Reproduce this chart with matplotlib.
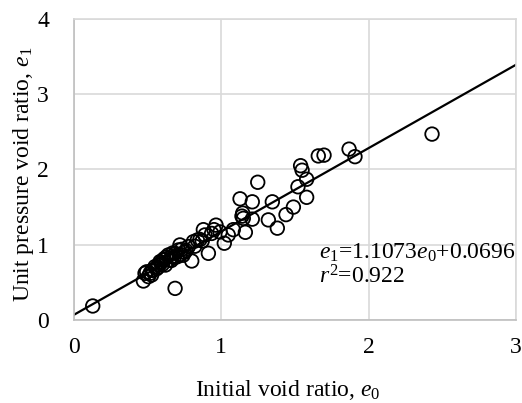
import numpy as np
import matplotlib
matplotlib.use("Agg")
import matplotlib.pyplot as plt

plt.rcParams.update({
    "font.family": ["Liberation Serif", "DejaVu Serif"],
    "mathtext.fontset": "custom",
    "mathtext.rm": "Liberation Serif",
    "mathtext.it": "Liberation Serif:italic",
    "font.size": 17,
})

# measured points (initial void ratio e0, unit pressure void ratio e1)
e0 = [0.127, 2.43, 1.867, 1.907, 1.658, 1.697, 1.538, 1.548, 1.579, 1.52,
      1.579, 1.489, 1.439, 1.346, 1.247, 1.127, 1.21, 1.145, 1.149, 1.21,
      1.319, 1.38, 1.163, 1.081, 1.02, 0.964, 0.95, 0.878, 0.912, 0.837,
      0.799, 0.719, 0.686, 0.471, 0.493, 0.516, 0.538, 0.55, 0.572, 0.584,
      0.606, 0.624, 0.64, 0.663, 0.686, 0.708, 0.731, 0.76, 0.776, 0.81,
      0.855, 0.889, 0.934, 0.991, 1.047, 1.14, 0.482, 0.505, 0.527, 0.56,
      0.6, 0.65, 0.7, 0.75, 0.82, 0.87, 0.53, 0.57, 0.59, 0.62,
      0.66, 0.68, 0.72, 0.74, 0.61, 0.67]
e1 = [0.186, 2.47, 2.27, 2.17, 2.18, 2.19, 2.05, 1.99, 1.87, 1.77,
      1.63, 1.50, 1.40, 1.57, 1.83, 1.61, 1.57, 1.42, 1.35, 1.34,
      1.33, 1.22, 1.165, 1.20, 1.02, 1.26, 1.20, 1.20, 0.886, 1.063,
      0.784, 0.997, 0.42, 0.518, 0.64, 0.62, 0.664, 0.709, 0.731, 0.775,
      0.797, 0.833, 0.864, 0.842, 0.886, 0.93, 0.939, 0.921, 0.975, 1.04,
      1.07, 1.13, 1.15, 1.17, 1.13, 1.38, 0.62, 0.576, 0.598, 0.68,
      0.74, 0.80, 0.84, 0.90, 0.98, 1.05, 0.66, 0.70, 0.76, 0.73,
      0.79, 0.83, 0.87, 0.86, 0.81, 0.89]

slope, intercept, r2 = 1.1073, 0.0696, 0.922
fit_x = [0, 3]

fig = plt.figure(figsize=(5.22, 4.03), dpi=100)
ax = fig.add_axes([0.1418, 0.206, 0.8467, 0.747])

ax.scatter(e0, e1, s=95, facecolors="none", edgecolors="black", linewidths=1.3, zorder=3)
ax.plot(fit_x, [slope * x + intercept for x in fit_x], color="black", lw=1.6, zorder=2)

ax.set_xlim(0, 3)
ax.set_ylim(0, 4)
ax.set_xticks([0, 1, 2, 3])
ax.set_yticks([0, 1, 2, 3, 4])
ax.grid(True, color="#d9d9d9", lw=1.2)
ax.set_axisbelow(True)
ax.tick_params(length=0, labelsize=17)
ax.tick_params(axis="x", pad=12)
ax.tick_params(axis="y", pad=18)
for s in ["top", "right"]:
    ax.spines[s].set_color("#d9d9d9")
    ax.spines[s].set_linewidth(1.2)
for s in ["left", "bottom"]:
    ax.spines[s].set_color("#bfbfbf")
    ax.spines[s].set_linewidth(1.2)

ax.set_xlabel(r"Initial void ratio, $e_{\mathit{0}}$", fontsize=17, va="center")
ax.set_ylabel(r"Unit pressure void ratio, $e_{\mathit{1}}$", fontsize=17, va="center")
ax.xaxis.set_label_coords(0.483, -0.233)
ax.yaxis.set_label_coords(-0.115, 0.485)

ax.text(1.663, 0.82, r"$e_{\mathit{1}}$=%.4f$e_{\mathit{0}}$+%.4f" % (slope, intercept),
        fontsize=17, ha="left", va="baseline")
ax.text(1.663, 0.49, r"$r^{2}$=%.3f" % r2, fontsize=17, ha="left", va="baseline")

fig.savefig("out.png", dpi=100)
